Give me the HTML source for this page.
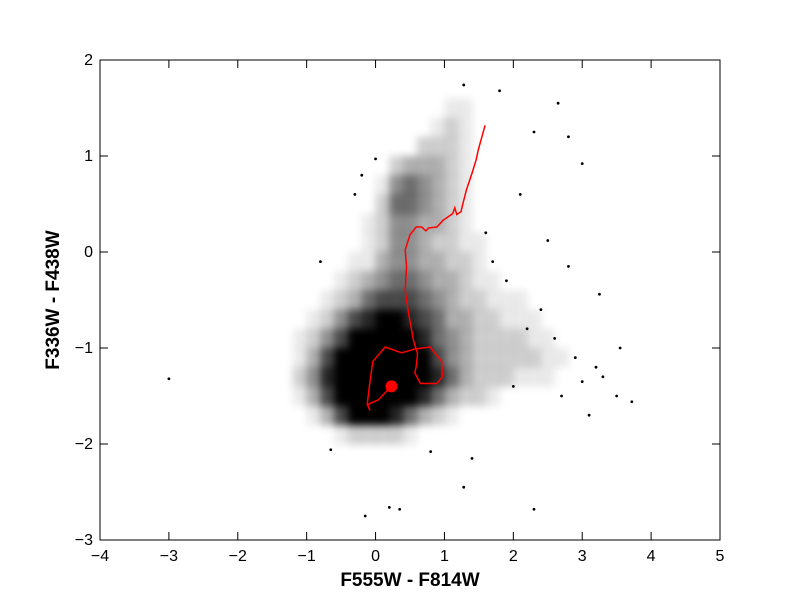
<!DOCTYPE html>
<html><head><meta charset="utf-8"><style>
body{margin:0;background:#fff;}
svg{display:block;font-family:"Liberation Sans",sans-serif;}
</style></head><body>
<svg id="chart" width="800" height="600">
<defs><filter id="blur" x="-20%" y="-20%" width="140%" height="140%"><feGaussianBlur stdDeviation="4"/></filter>
<clipPath id="clip"><rect x="100" y="60" width="620" height="480"/></clipPath></defs>
<g id="density" clip-path="url(#clip)" filter="url(#blur)"></g>
<g id="outliers" clip-path="url(#clip)"></g>
<g id="track"></g>
<rect x="100" y="60" width="620" height="480" fill="none" stroke="#000" stroke-width="1"/>
<g id="axes"></g>
<text x="410" y="586" text-anchor="middle" font-size="19" font-weight="bold">F555W - F814W</text>
<text transform="translate(59,300) rotate(-90)" text-anchor="middle" font-size="19" font-weight="bold">F336W - F438W</text>
</svg>
<script>
const xTicks=[-4,-3,-2,-1,0,1,2,3,4,5];
const yTicks=[-3,-2,-1,0,1,2];
const tickLabels={"-4":"\u22124","-3":"\u22123","-2":"\u22122","-1":"\u22121"};
const gridX0=-1.2, gridStep=0.2, gridYTop=1.8;
const densityRows=[
[0,0,0,0,0,0,0,0,0,0,0,0,0,0,0,0,0,0,0,0,0,0,0,0,0],
[0,0,0,0,0,0,0,0,0,0,0,1,1,0,0,0,0,0,0,0,0,0,0,0,0],
[0,0,0,0,0,0,0,0,0,0,1,2,1,0,0,0,0,0,0,0,0,0,0,0,0],
[0,0,0,0,0,0,0,0,0,2,2,2,1,0,0,0,0,0,0,0,0,0,0,0,0],
[0,0,0,0,0,0,0,2,3,3,3,2,1,0,0,0,0,0,0,0,0,0,0,0,0],
[0,0,0,0,0,0,1,4,5,4,3,2,1,0,0,0,0,0,0,0,0,0,0,0,0],
[0,0,0,0,0,0,2,5,5,4,3,2,1,0,0,0,0,0,0,0,0,0,0,0,0],
[0,0,0,0,0,1,2,4,4,3,3,2,1,0,0,0,0,0,0,0,0,0,0,0,0],
[0,0,0,0,0,1,2,4,4,3,2,2,1,1,0,0,0,0,0,0,0,0,0,0,0],
[0,0,0,0,1,1,3,4,4,3,3,2,2,1,0,0,0,0,0,0,0,0,0,0,0],
[0,0,0,1,2,3,4,5,5,4,3,3,2,1,1,0,0,0,0,0,0,0,0,0,0],
[0,0,1,2,3,5,6,6,6,5,4,3,2,2,1,1,1,0,0,0,0,0,0,0,0],
[0,1,2,4,6,7,8,8,7,6,5,3,3,2,2,1,1,1,0,0,0,0,0,0,0],
[1,2,4,6,8,9,9,9,8,7,5,4,3,2,2,2,2,1,1,0,0,0,0,0,0],
[1,3,6,8,9,9,9,9,9,8,6,4,3,2,2,2,2,2,1,1,0,0,0,0,0],
[2,4,7,9,9,9,9,9,9,9,7,5,3,2,2,2,1,1,1,0,0,0,0,0,0],
[1,3,6,9,9,9,9,9,9,7,5,3,2,2,1,0,0,0,0,0,0,0,0,0,0],
[0,1,3,6,8,8,8,7,5,3,2,1,0,0,0,0,0,0,0,0,0,0,0,0,0],
[0,0,0,1,2,2,2,2,1,0,0,0,0,0,0,0,0,0,0,0,0,0,0,0,0],
[0,0,0,0,0,0,0,0,0,0,0,0,0,0,0,0,0,0,0,0,0,0,0,0,0]
];
const outX=[-3,1.28,1.8,2.65,2.3,2.8,3,2.1,2.5,2.8,3.25,3.55,3.5,3.72,3.1,3.3,1.28,2.3,0.2,0.35,-0.15,-0.65,0.8,1.4,-0.8,-0.2,0,-0.3,2.4,2.6,2.9,3.2,2.2,2.0,1.9,2.7,3.0,1.6,1.7];
const outY=[-1.32,1.74,1.68,1.55,1.25,1.2,0.92,0.6,0.12,-0.15,-0.44,-1.0,-1.5,-1.56,-1.7,-1.3,-2.45,-2.68,-2.66,-2.68,-2.75,-2.06,-2.08,-2.15,-0.1,0.8,0.97,0.6,-0.6,-0.9,-1.1,-1.2,-0.8,-1.4,-0.3,-1.5,-1.35,0.2,-0.1];
const trackX=[1.59,1.49,1.46,1.40,1.32,1.27,1.24,1.18,1.15,1.12,0.98,0.89,0.77,0.73,0.67,0.59,0.50,0.43,0.45,0.43,0.48,0.55,0.61,0.59,0.57,0.65,0.89,0.97,0.96,0.79,0.57,0.38,0.14,-0.04,-0.09,-0.12,-0.08,-0.12,0.04,0.23];
const trackY=[1.32,1.06,0.96,0.82,0.65,0.51,0.42,0.39,0.46,0.40,0.33,0.26,0.25,0.22,0.26,0.26,0.18,0.02,-0.15,-0.40,-0.64,-0.92,-1.06,-1.19,-1.26,-1.37,-1.37,-1.30,-1.14,-0.99,-1.01,-1.05,-0.99,-1.14,-1.40,-1.58,-1.65,-1.59,-1.54,-1.40];
const dotX=[0.23], dotY=[-1.40];

const NS="http://www.w3.org/2000/svg";
const sx=v=>100+(v+4)*620/9;
const sy=v=>60+(2-v)*96;
function mk(tag,attrs,parent){const e=document.createElementNS(NS,tag);for(const k in attrs)e.setAttribute(k,attrs[k]);parent.appendChild(e);return e;}
const dens=document.getElementById('density');
densityRows.forEach((row,r)=>row.forEach((v,c)=>{
  if(!v)return;
  const x0=gridX0+c*gridStep, y1=gridYTop-r*gridStep;
  const e=mk('rect',{x:sx(x0),y:sy(y1),width:sx(x0+gridStep)-sx(x0)+0.5,height:sy(y1-gridStep)-sy(y1)+0.5,fill:'#000','fill-opacity':Math.min(1,Math.pow(v/8,1.2))},dens);
  
  
}));
const out=document.getElementById('outliers');
outX.forEach((x,i)=>{
  const e=mk('circle',{cx:sx(x),cy:sy(outY[i]),r:1.4,fill:'#000'},out);
  
  
});
const tr=document.getElementById('track');
const line=mk('polyline',{points:trackX.map((x,i)=>sx(x)+','+sy(trackY[i])).join(' '),fill:'none',stroke:'#ff0000','stroke-width':1.5},tr);


const dot=mk('circle',{cx:sx(dotX[0]),cy:sy(dotY[0]),r:6,fill:'#ff0000'},tr);


const ax=document.getElementById('axes');
xTicks.forEach(t=>{
  const x=sx(t);
  mk('line',{x1:x,x2:x,y1:540,y2:532,stroke:'#000'},ax);
  mk('line',{x1:x,x2:x,y1:60,y2:68,stroke:'#000'},ax);
  const e=mk('text',{x:x,y:561,'text-anchor':'middle','font-size':16},ax);
  e.textContent=tickLabels[t]||String(t);
  
  
});
yTicks.forEach(t=>{
  const y=sy(t);
  mk('line',{x1:100,x2:108,y1:y,y2:y,stroke:'#000'},ax);
  mk('line',{x1:720,x2:712,y1:y,y2:y,stroke:'#000'},ax);
  const e=mk('text',{x:93,y:y+5,'text-anchor':'end','font-size':16},ax);
  e.textContent=tickLabels[t]||String(t);
  
  
});
</script>
</body></html>
